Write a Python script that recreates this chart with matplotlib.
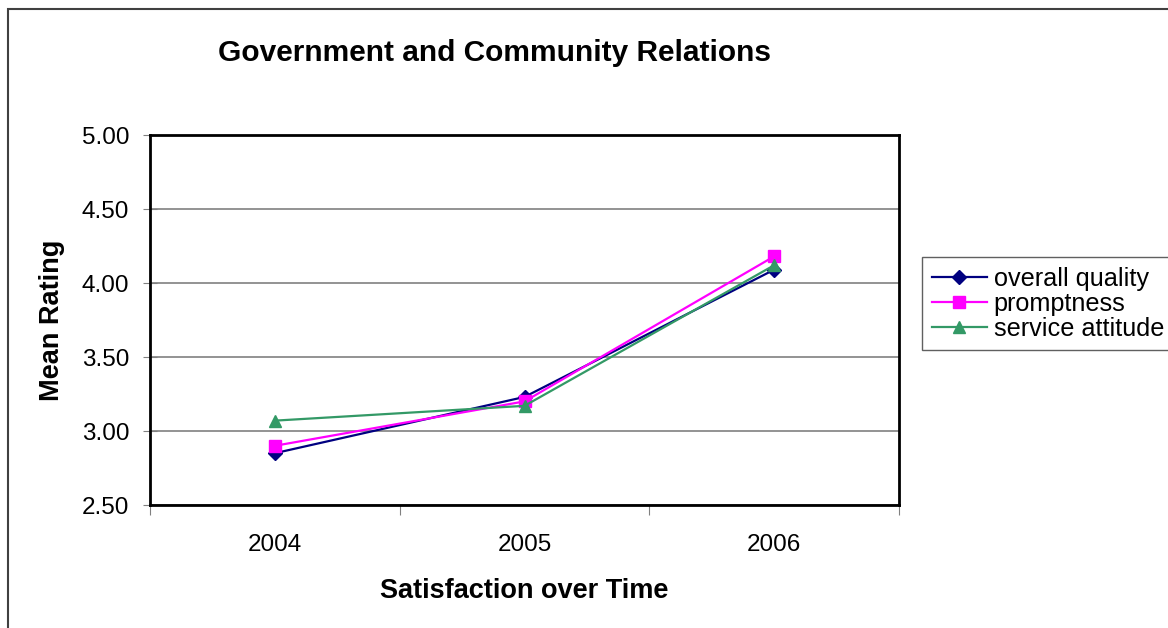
import matplotlib.pyplot as plt
from matplotlib.patches import Rectangle

years = ["2004", "2005", "2006"]
overall_quality = [2.85, 3.23, 4.09]
promptness = [2.90, 3.20, 4.18]
service_attitude = [3.07, 3.17, 4.12]
yticks = [2.5, 3.0, 3.5, 4.0, 4.5, 5.0]

plt.rcParams['font.family'] = ['Liberation Sans', 'DejaVu Sans']

W, H = 1168, 628
fig = plt.figure(figsize=(W / 100, H / 100), dpi=100)

# outer chart border, runs off the right and bottom edges
fig.patches.append(Rectangle((8 / W, -0.1), 1.2, 1 - 9 / H + 0.1, transform=fig.transFigure,
                             fill=False, edgecolor='#404040', linewidth=1.5))

ax = fig.add_axes([150 / W, 1 - 505 / H, (899 - 150) / W, (505 - 135) / H])

x = range(1, len(years) + 1)
ax.plot(x, overall_quality, color='#000080', marker='D', markersize=7, linewidth=1.6,
        label='overall quality', zorder=3)
ax.plot(x, promptness, color='#FF00FF', marker='s', markersize=8, linewidth=1.6,
        label='promptness', zorder=3)
ax.plot(x, service_attitude, color='#339966', marker='^', markersize=9, linewidth=1.6,
        label='service attitude', zorder=3)

ax.set_xlim(0.5, 3.5)
ax.set_ylim(2.5, 5.0)
ax.set_yticks(yticks)
ax.set_yticklabels([f"{v:.2f}" for v in yticks])
ax.yaxis.grid(True, color='#808080', linewidth=1.2)
ax.set_axisbelow(True)

# category labels centred, ticks on the boundaries
ax.set_xticks([0.5, 1.5, 2.5, 3.5])
ax.set_xticklabels([])
ax.set_xticks(list(x), minor=True)
ax.set_xticklabels(years, minor=True)
ax.tick_params(axis='x', which='minor', length=0, pad=21, labelsize=17.5)
ax.tick_params(axis='x', which='major', length=7, color='#808080', direction='out')
ax.tick_params(axis='y', length=10, color='#808080', direction='inout', labelsize=17.5, pad=10)

for s in ax.spines.values():
    s.set_linewidth(2)
    s.set_color('black')

ax.set_xlabel('Satisfaction over Time', fontsize=19.5, fontweight='bold', labelpad=16)
ax.set_ylabel('Mean Rating', fontsize=19.5, fontweight='bold', labelpad=12)

fig.text(494 / W, 1 - 53 / H, 'Government and Community Relations', fontsize=21.5,
         fontweight='bold', ha='center', va='center')

leg = ax.legend(loc='upper left', bbox_to_anchor=(922 / W, 1 - 257 / H),
                bbox_transform=fig.transFigure, fancybox=False, framealpha=1,
                edgecolor='#606060', fontsize=18.2, handlelength=2.2,
                handletextpad=0.25, borderpad=0.38, labelspacing=0.04, borderaxespad=0)
leg.get_frame().set_linewidth(1)

fig.savefig('out.png', dpi=100)
